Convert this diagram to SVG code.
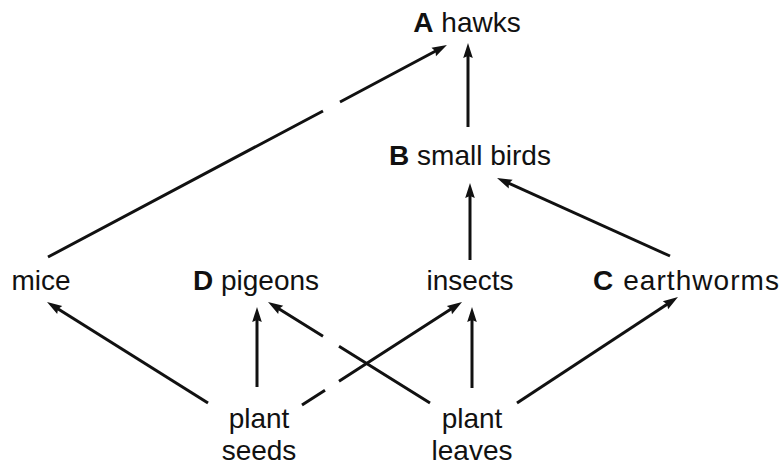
<svg xmlns="http://www.w3.org/2000/svg" width="784" height="466" viewBox="0 0 784 466">
<defs>
<style>
text{font-family:"Liberation Sans",Arial,sans-serif;font-size:28px;fill:#111;text-anchor:middle}
.k{font-weight:bold}
.c{fill:none;stroke:#111;stroke-width:3;stroke-linecap:butt}
</style>
<marker id="ah" viewBox="-8 -6 17 12" markerWidth="17" markerHeight="12" refX="0" refY="0" orient="auto" markerUnits="userSpaceOnUse">
<path d="M8,0 L-7,-4.8 L-5,0 L-7,4.8 Z" fill="#111"/>
</marker>
</defs>
<rect width="784" height="466" fill="#fff"/>
<g id="connectors">
<path class="c" d="M48,257 L323,111 M340,102 L439.9,48.8" marker-end="url(#ah)"/>
<path class="c" d="M468,127 L468,51" marker-end="url(#ah)"/>
<path class="c" d="M470,260 L470,191" marker-end="url(#ah)"/>
<path class="c" d="M670,256 L504.3,181.3" marker-end="url(#ah)"/>
<path class="c" d="M208,403 L53.8,306.3" marker-end="url(#ah)"/>
<path class="c" d="M257,387 L257,315" marker-end="url(#ah)"/>
<path class="c" d="M430,403 L339,346.3 M323,336.3 L274.8,306.2" marker-end="url(#ah)"/>
<path class="c" d="M302,405 L325,390.2 M339,381.2 L455.3,306.3" marker-end="url(#ah)"/>
<path class="c" d="M472,388 L472,315" marker-end="url(#ah)"/>
<path class="c" d="M517,403 L671.3,301.4" marker-end="url(#ah)"/>
</g>
<g id="hawks"><text x="467" y="32"><tspan class="k">A</tspan> hawks</text></g>
<g id="small-birds"><text x="470" y="165"><tspan class="k">B</tspan> small birds</text></g>
<g id="mice"><text x="41" y="290">mice</text></g>
<g id="pigeons"><text x="256" y="290"><tspan class="k">D</tspan> pigeons</text></g>
<g id="insects"><text x="470" y="290">insects</text></g>
<g id="earthworms"><text x="686" y="290" textLength="186"><tspan class="k">C</tspan> earthworms</text></g>
<g id="plant-seeds"><text x="259" y="428">plant</text><text x="259" y="460">seeds</text></g>
<g id="plant-leaves"><text x="472" y="428">plant</text><text x="472" y="460">leaves</text></g>
</svg>
